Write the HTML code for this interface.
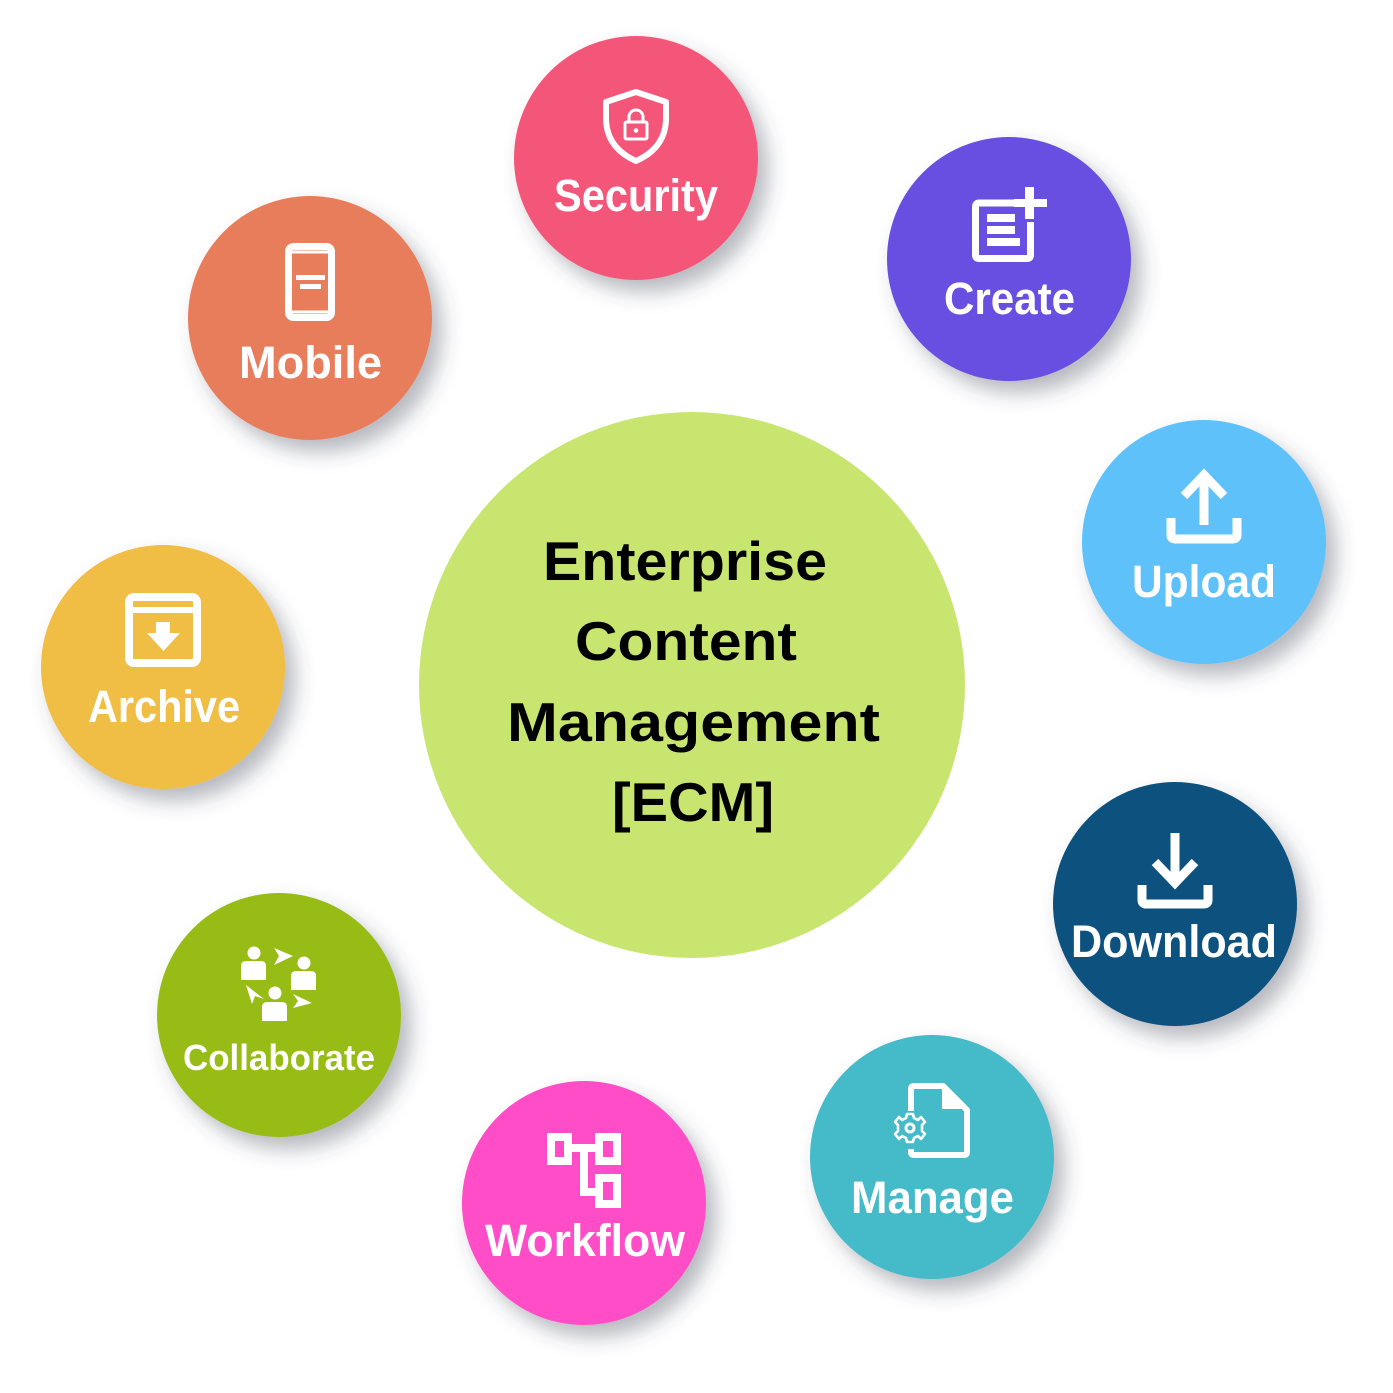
<!DOCTYPE html>
<html>
<head>
<meta charset="utf-8">
<style>
  html,body{margin:0;padding:0;background:#fff;}
  svg{display:block;}
  text{font-family:"Liberation Sans",Arial,sans-serif;font-weight:bold;}
</style>
</head>
<body>
<svg width="1393" height="1393" viewBox="0 0 1393 1393" xmlns="http://www.w3.org/2000/svg">
  <defs>
    <filter id="sh" x="-30%" y="-30%" width="170%" height="170%">
      <feDropShadow dx="10" dy="12" stdDeviation="10" flood-color="#3c4a55" flood-opacity="0.38"/>
    </filter>
  </defs>
  <rect width="1393" height="1393" fill="#fff"/>

  <!-- center -->
  <circle cx="692" cy="685" r="273" fill="#c8e56f"/>
  <g fill="#000" font-size="55">
    <text x="543" y="580" textLength="284" lengthAdjust="spacingAndGlyphs">Enterprise</text>
    <text x="575" y="660" textLength="222" lengthAdjust="spacingAndGlyphs">Content</text>
    <text x="507" y="741" textLength="373" lengthAdjust="spacingAndGlyphs">Management</text>
    <text x="612" y="821" textLength="162" lengthAdjust="spacingAndGlyphs">[ECM]</text>
  </g>

  <!-- circles -->
  <g filter="url(#sh)">
    <circle cx="636" cy="158" r="122" fill="#f4577a"/>
    <circle cx="1009" cy="259" r="122" fill="#6750e2"/>
    <circle cx="1204" cy="542" r="122" fill="#5ec1f9"/>
    <circle cx="1175" cy="904" r="122" fill="#07517e"/>
    <circle cx="932" cy="1157" r="122" fill="#44bac8"/>
    <circle cx="584" cy="1203" r="122" fill="#ff4dc8"/>
    <circle cx="279" cy="1015" r="122" fill="#97bc14"/>
    <circle cx="163" cy="667" r="122" fill="#f0bd45"/>
    <circle cx="310" cy="318" r="122" fill="#e87d5b"/>
  </g>

  <!-- labels -->
  <g fill="#fff" font-size="45">
    <text x="554" y="211" textLength="164" lengthAdjust="spacingAndGlyphs">Security</text>
    <text x="944" y="314" textLength="131" lengthAdjust="spacingAndGlyphs">Create</text>
    <text x="1132" y="597" textLength="144" lengthAdjust="spacingAndGlyphs">Upload</text>
    <text x="1071" y="957" textLength="206" lengthAdjust="spacingAndGlyphs">Download</text>
    <text x="851" y="1213" textLength="163" lengthAdjust="spacingAndGlyphs">Manage</text>
    <text x="485" y="1256" textLength="200" lengthAdjust="spacingAndGlyphs">Workflow</text>
    <text x="88" y="722" textLength="152" lengthAdjust="spacingAndGlyphs">Archive</text>
    <text x="239" y="378" textLength="143" lengthAdjust="spacingAndGlyphs">Mobile</text>
    <text x="183" y="1070" textLength="192" lengthAdjust="spacingAndGlyphs" font-size="36">Collaborate</text>
  </g>

  <!-- Security icon -->
  <g fill="none" stroke="#fff" stroke-linejoin="round">
    <path d="M636 92 L666 102 L666 120 Q665 148 636 161 Q607 148 606 120 L606 102 Z" stroke-width="6"/>
    <rect x="625" y="122" width="22" height="17" rx="1.5" stroke-width="3"/>
    <path d="M629 122 V117 A7 7 0 0 1 643 117 V122" stroke-width="3"/>
  </g>
  <circle cx="636" cy="130.5" r="2.3" fill="#fff"/>

  <!-- Create icon -->
  <g fill="none" stroke="#fff" stroke-width="7">
    <path d="M1015 203 H979 Q975.5 203 975.5 207 V255 Q975.5 258.5 979 258.5 H1027 Q1030.5 258.5 1030.5 255 V222"/>
  </g>
  <g fill="#fff">
    <rect x="987" y="214" width="28" height="8"/>
    <rect x="987" y="226" width="28" height="8"/>
    <rect x="987" y="238" width="33" height="8"/>
    <rect x="1025" y="187" width="9" height="32"/>
    <rect x="1014" y="199" width="33" height="8"/>
  </g>

  <!-- Upload icon -->
  <g fill="none" stroke="#fff" stroke-width="9">
    <path d="M1204 476 V525"/>
    <path d="M1184 496 L1204 475 L1224 496"/>
    <path d="M1171 518 V535 Q1171 539 1175 539 H1233 Q1237 539 1237 535 V518"/>
  </g>

  <!-- Download icon -->
  <g fill="none" stroke="#fff" stroke-width="9">
    <path d="M1175 833 V882"/>
    <path d="M1155 862 L1175 883 L1195 862"/>
    <path d="M1142 885 V900 Q1142 904 1146 904 H1204 Q1208 904 1208 900 V885"/>
  </g>

  <!-- Manage icon -->
  <g fill="none" stroke="#fff" stroke-width="6" stroke-linejoin="round">
    <path d="M911 1111 V1089 Q911 1086 914 1086 H943 L967 1110 V1152 Q967 1155 964 1155 H914 Q911 1155 911 1152 V1149"/>
  </g>
  <path d="M942 1085 V1109 H968 Z" fill="#fff"/>
  <g transform="translate(910 1128)" fill="none" stroke="#fff">
    <circle r="4" stroke-width="3"/>
    <path d="M-3 -14 H3 L4 -10 L8 -8 L11 -11 L15 -6 L12 -3 L12 3 L15 6 L11 11 L8 8 L4 10 L3 14 H-3 L-4 10 L-8 8 L-11 11 L-15 6 L-12 3 L-12 -3 L-15 -6 L-11 -11 L-8 -8 L-4 -10 Z" stroke-width="2.6" stroke-linejoin="round"/>
  </g>

  <!-- Workflow icon -->
  <g fill="none" stroke="#fff" stroke-width="8">
    <rect x="551" y="1137" width="17" height="24"/>
    <rect x="599" y="1137" width="18" height="24"/>
    <rect x="599" y="1178" width="18" height="26"/>
    <path d="M568 1148 H599"/>
    <path d="M584 1148 V1192 H599"/>
  </g>

  <!-- Archive icon -->
  <g fill="none" stroke="#fff" stroke-width="8" stroke-linejoin="round">
    <rect x="129" y="597" width="68" height="66" rx="5"/>
    <path d="M129 610 H197" stroke-width="6"/>
  </g>
  <g fill="#fff">
    <rect x="156" y="622" width="14" height="13"/>
    <path d="M147 633 H180 L163.5 651 Z"/>
  </g>

  <!-- Mobile icon -->
  <g fill="none" stroke="#fff" stroke-linejoin="round">
    <rect x="288.5" y="246.5" width="43" height="71" rx="5" stroke-width="7"/>
    <path d="M292 252 H328 M292 312 H328" stroke-width="3"/>
  </g>
  <g fill="#fff">
    <rect x="296" y="275" width="29" height="5"/>
    <rect x="300" y="284" width="21" height="5"/>
  </g>

  <!-- Collaborate icon -->
  <g fill="#fff">
    <circle cx="254" cy="953" r="6.5"/>
    <path d="M241 980 V966 Q241 961 246 961 H261 Q266 961 266 966 V980 Z"/>
    <circle cx="304" cy="963" r="6.5"/>
    <path d="M291 990 V976 Q291 971 296 971 H311 Q316 971 316 976 V990 Z"/>
    <circle cx="275" cy="993" r="6.5"/>
    <path d="M262 1021 V1007 Q262 1002 267 1002 H282 Q287 1002 287 1007 V1021 Z"/>
    <!-- arrows -->
    <path d="M293 956 L274 948 L279 956 L274 965 Z"/>
    <path d="M246 985 L252 1004 L255 996 L264 999 Z"/>
    <path d="M312 1003 L293 1008 L298 1001 L293 994 Z"/>
  </g>
</svg>
</body>
</html>
